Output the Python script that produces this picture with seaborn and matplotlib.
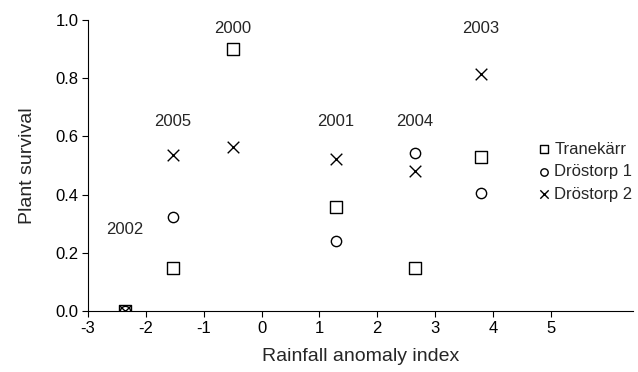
import pandas as pd
import numpy as np
import matplotlib
matplotlib.use("Agg")
import matplotlib.pyplot as plt
import seaborn as sns

# data
years = [2000, 2001, 2002, 2003, 2004, 2005]
rainfall = [-0.50, 1.28, -2.36, 3.79, 2.65, -1.53]
tranekarr = [0.90, 0.357, 0.0, 0.53, 0.148, 0.148]
drostorp1 = [np.nan, 0.241, 0.0, 0.405, 0.543, 0.323]
drostorp2 = [0.564, 0.522, 0.0, 0.814, 0.481, 0.536]
label_y = [0.97, 0.65, 0.28, 0.97, 0.65, 0.65]
sites = ["Tranekärr", "Dröstorp 1", "Dröstorp 2"]

df = pd.concat([
    pd.DataFrame({"year": years, "rain": rainfall, "survival": vals, "site": s})
    for s, vals in zip(sites, [tranekarr, drostorp1, drostorp2])
]).dropna()

sns.set_style("ticks")
plt.rcParams["font.family"] = ["Liberation Sans", "DejaVu Sans"]
plt.rcParams["axes.unicode_minus"] = False

fig = plt.figure(figsize=(6.38, 3.72), dpi=100)
ax = fig.add_axes([88 / 638, 1 - 311 / 372, (633 - 88) / 638, 291 / 372])

markers = {"Tranekärr": "s", "Dröstorp 1": "o", "Dröstorp 2": "x"}
for s in sites:
    d = df[df["site"] == s]
    if markers[s] == "x":
        sns.scatterplot(data=d, x="rain", y="survival", marker="x", color="black",
                        s=70, linewidth=1.0, ax=ax, label=s)
    else:
        sns.scatterplot(data=d, x="rain", y="survival", marker=markers[s],
                        facecolor="white", edgecolor="black", s=65 if s == "Tranekärr" else 55,
                        linewidth=1.0, ax=ax, label=s)

for yr, x, y in zip(years, rainfall, label_y):
    ax.text(x, y, str(yr), ha="center", va="center", fontsize=12)

ax.set_xlim(-3, 6.42)
ax.set_ylim(0, 1.0)
ax.set_xticks(range(-3, 6))
ax.set_yticks(np.arange(0, 1.01, 0.2))
ax.set_yticklabels([f"{v:.1f}" for v in np.arange(0, 1.01, 0.2)])
ax.tick_params(labelsize=12, length=4, width=0.8, colors="black", pad=3)
ax.set_xlabel("Rainfall anomaly index", fontsize=14, labelpad=9)
ax.set_ylabel("Plant survival", fontsize=14, labelpad=14)
for sp in ["top", "right"]:
    ax.spines[sp].set_visible(False)
for sp in ["left", "bottom"]:
    ax.spines[sp].set_linewidth(0.8)
    ax.spines[sp].set_color("black")

leg = ax.legend(loc="upper left", bbox_to_anchor=(0.81, 0.605), frameon=False,
                fontsize=12, markerscale=0.72, handletextpad=0.1,
                labelspacing=0.45, borderaxespad=0, handlelength=1.0)

fig.savefig("out.png", dpi=100)
